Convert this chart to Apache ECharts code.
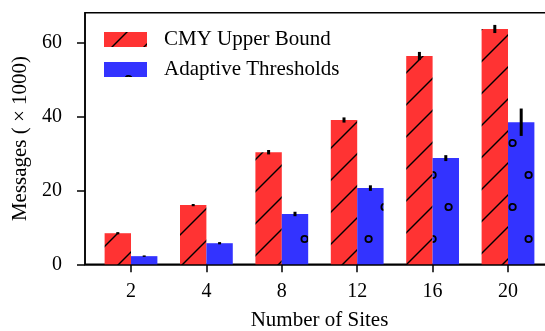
<!DOCTYPE html>
<html><head><meta charset="utf-8">
<script src="https://cdn.jsdelivr.net/npm/echarts@6/dist/echarts.min.js"></script>
<style>html,body{margin:0;padding:0;background:#fff}#c{width:545px;height:331px}</style>
</head><body><div id="c"></div>
<script>
const categories = ['2', '4', '8', '12', '16', '20'];
const cmyValues = [8.4, 16.0, 30.3, 39.0, 56.3, 63.6];
const cmyErrors = [0.3, 0.3, 0.6, 0.7, 1.1, 1.1];
const adaptiveValues = [2.2, 5.7, 13.6, 20.6, 28.7, 38.4];
const adaptiveErrors = [0.2, 0.3, 0.6, 0.75, 0.8, 3.7];
const yTicks = [0, 20, 40, 60];
const seriesNames = ['CMY Upper Bound', 'Adaptive Thresholds'];

const FONT = 'Liberation Serif';
const RED = '#ff3333', BLUE = '#3333ff';
const BAR_W = 0.35;

function lineTile() {
  const c = document.createElement('canvas'); c.width = 32; c.height = 32;
  const g = c.getContext('2d');
  g.fillStyle = RED; g.fillRect(0, 0, 32, 32);
  g.strokeStyle = '#000'; g.lineWidth = 1.4;
  for (const k of [-1, 31, 63]) {
    g.beginPath(); g.moveTo(k + 4, -4); g.lineTo(-4, k + 4); g.stroke();
  }
  return c;
}
function circleTile() {
  const c = document.createElement('canvas'); c.width = 32; c.height = 64;
  const g = c.getContext('2d');
  g.fillStyle = BLUE; g.fillRect(0, 0, 32, 64);
  g.strokeStyle = '#000'; g.lineWidth = 1.8;
  for (const [x, y] of [[16.6, 47], [0.6, 15], [32.6, 15]]) {
    g.beginPath(); g.arc(x, y, 3.2, 0, Math.PI * 2); g.stroke();
  }
  return c;
}
const redTile = lineTile(), blueTile = circleTile();
const redFill = { image: redTile, repeat: 'repeat' };
const blueFill = { image: blueTile, repeat: 'repeat' };

function makeRender(offset, fill) {
  return function (params, api) {
    const i = api.value(0), v = api.value(1), e = api.value(2);
    const p0 = api.coord([i + offset - BAR_W / 2, v]);
    const p1 = api.coord([i + offset + BAR_W / 2, 0]);
    const t = api.coord([i + offset, v + e]);
    const b = api.coord([i + offset, v - e]);
    return {
      type: 'group',
      children: [
        { type: 'rect', shape: { x: p0[0], y: p0[1], width: p1[0] - p0[0], height: p1[1] - p0[1] },
          style: { fill: fill, stroke: null } },
        { type: 'line', shape: { x1: t[0], y1: t[1], x2: b[0], y2: b[1] },
          style: { stroke: '#000', lineWidth: 3 } }
      ]
    };
  };
}

const idx = categories.map((_, i) => i);
const chart = echarts.init(document.getElementById('c'), null, { renderer: 'canvas' });
chart.setOption({
  animation: false,
  grid: { left: 85, right: -9, top: 12.7, bottom: 66.7, show: true, borderColor: '#000', borderWidth: 1.5,
          containLabel: false, outerBoundsMode: 'none' },
  legend: {
    orient: 'vertical', left: 104, top: 29, padding: 0, itemWidth: 43, itemHeight: 15, itemGap: 9,
    icon: 'rect',
    textStyle: { fontFamily: FONT, fontSize: 21, color: '#000', padding: [0, 0, 0, 12] },
    data: [
      { name: seriesNames[0], itemStyle: { color: { image: redTile, repeat: 'repeat', x: -104, y: -32 } } },
      { name: seriesNames[1], itemStyle: { color: { image: blueTile, repeat: 'repeat', x: -104, y: -62 } } }
    ]
  },
  xAxis: {
    type: 'value', min: -0.61, max: 5.61,
    axisLine: { show: true, onZero: false, lineStyle: { color: '#000', width: 1.5 } },
    axisTick: { show: true, customValues: idx, length: 8, lineStyle: { color: '#000', width: 1.5 } },
    axisLabel: { customValues: idx, formatter: v => categories[Math.round(v)], fontFamily: FONT, fontSize: 20, color: '#000', margin: 17 },
    splitLine: { show: false },
    name: 'Number of Sites', nameLocation: 'middle', nameGap: 46,
    nameTextStyle: { fontFamily: FONT, fontSize: 21, color: '#000' }
  },
  yAxis: {
    type: 'value', min: 0, max: 68,
    axisLine: { show: true, onZero: false, lineStyle: { color: '#000', width: 1.5 } },
    axisTick: { show: true, customValues: yTicks, length: 8, lineStyle: { color: '#000', width: 1.5 } },
    axisLabel: { customValues: yTicks, fontFamily: FONT, fontSize: 20, color: '#000', margin: 23 },
    splitLine: { show: false },
    name: 'Messages (\u2005×\u20051000)', nameLocation: 'middle', nameGap: 52,
    nameTextStyle: { fontFamily: FONT, fontSize: 21, color: '#000' }
  },
  series: [
    { name: seriesNames[0], type: 'custom', itemStyle: { color: RED },
      renderItem: makeRender(-BAR_W / 2, redFill), encode: { x: 0, y: 1 },
      data: cmyValues.map((v, i) => [i, v, cmyErrors[i]]) },
    { name: seriesNames[1], type: 'custom', itemStyle: { color: BLUE },
      renderItem: makeRender(BAR_W / 2, blueFill), encode: { x: 0, y: 1 },
      data: adaptiveValues.map((v, i) => [i, v, adaptiveErrors[i]]) }
  ]
});
</script></body></html>
